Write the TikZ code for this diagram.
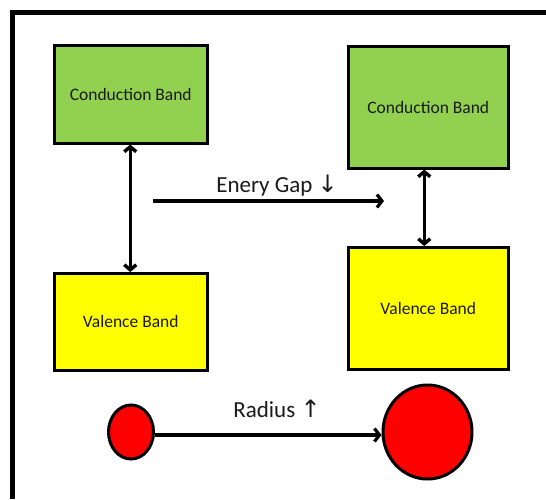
\documentclass[tikz,border=0pt]{standalone}
\usepackage{fontspec}
\setmainfont{Carlito}
\newfontfamily\arrfont{DejaVu Sans}
\usetikzlibrary{arrows.meta,shapes.geometric}
\definecolor{cbgreen}{HTML}{92D050}
\definecolor{vbyellow}{HTML}{FFFF00}
\definecolor{txtdark}{HTML}{1A1A1A}
\tikzset{
  bandbox/.style={draw=black, line width=2.5pt, inner sep=0pt, anchor=north west,
    font=\fontsize{17.5}{20}\selectfont, text=txtdark},
  ball/.style={draw=black, fill=red, line width=3pt, ellipse, inner sep=0pt},
  gapline/.style={line width=3.2pt, -{Straight Barb[length=5pt,width=13pt,line width=3.2pt]}},
  dblline/.style={line width=3.4pt, {Straight Barb[length=5pt,width=12pt,line width=3.4pt]}-{Straight Barb[length=5pt,width=12pt,line width=3.4pt]}},
  biglabel/.style={font=\fontsize{23}{26}\selectfont, text=txtdark}
}
\begin{document}
\begin{tikzpicture}[x=1pt,y=-1pt]
\useasboundingbox (0,0) rectangle (546,499);
% frame
\draw[line width=5pt] (12,499) -- (12,12) -- (546,12);
% boxes
\node[bandbox, fill=cbgreen, minimum width=153pt, minimum height=98pt] (cb1) at (53,44) {Conduction Band};
\node[bandbox, fill=vbyellow, minimum width=153pt, minimum height=97pt] (vb1) at (53,272) {Valence Band};
\node[bandbox, fill=cbgreen, minimum width=160pt, minimum height=122pt] (cb2) at (347,45) {Conduction Band};
\node[bandbox, fill=vbyellow, minimum width=160pt, minimum height=122pt] (vb2) at (347,246) {Valence Band};
% double arrows
\draw[dblline] ([xshift=-0.5pt]cb1.south) -- ([xshift=-0.5pt]vb1.north);
\draw[dblline] ([xshift=-4pt]cb2.south) -- ([xshift=-4pt]vb2.north);
% energy gap arrow
\coordinate (g1) at (153,201);
\coordinate (g2) at (384,201);
\draw[gapline] (g1) -- (g2);
\node[biglabel] (gaplbl) at (277,186) {Enery Gap {\arrfont\fontsize{24}{26}\selectfont ↓}};
% balls
\node[ball, minimum width=45pt, minimum height=54pt] (s) at (131,432) {};
\node[ball, minimum width=89pt, minimum height=94pt] (b) at (427.5,432) {};
\draw[gapline] ([yshift=-3pt]s.east) -- ([yshift=-3pt]b.west);
\node[biglabel] (radlbl) at (277,409) {Radius {\arrfont\fontsize{24}{26}\selectfont ↑}};
\end{tikzpicture}
\end{document}
